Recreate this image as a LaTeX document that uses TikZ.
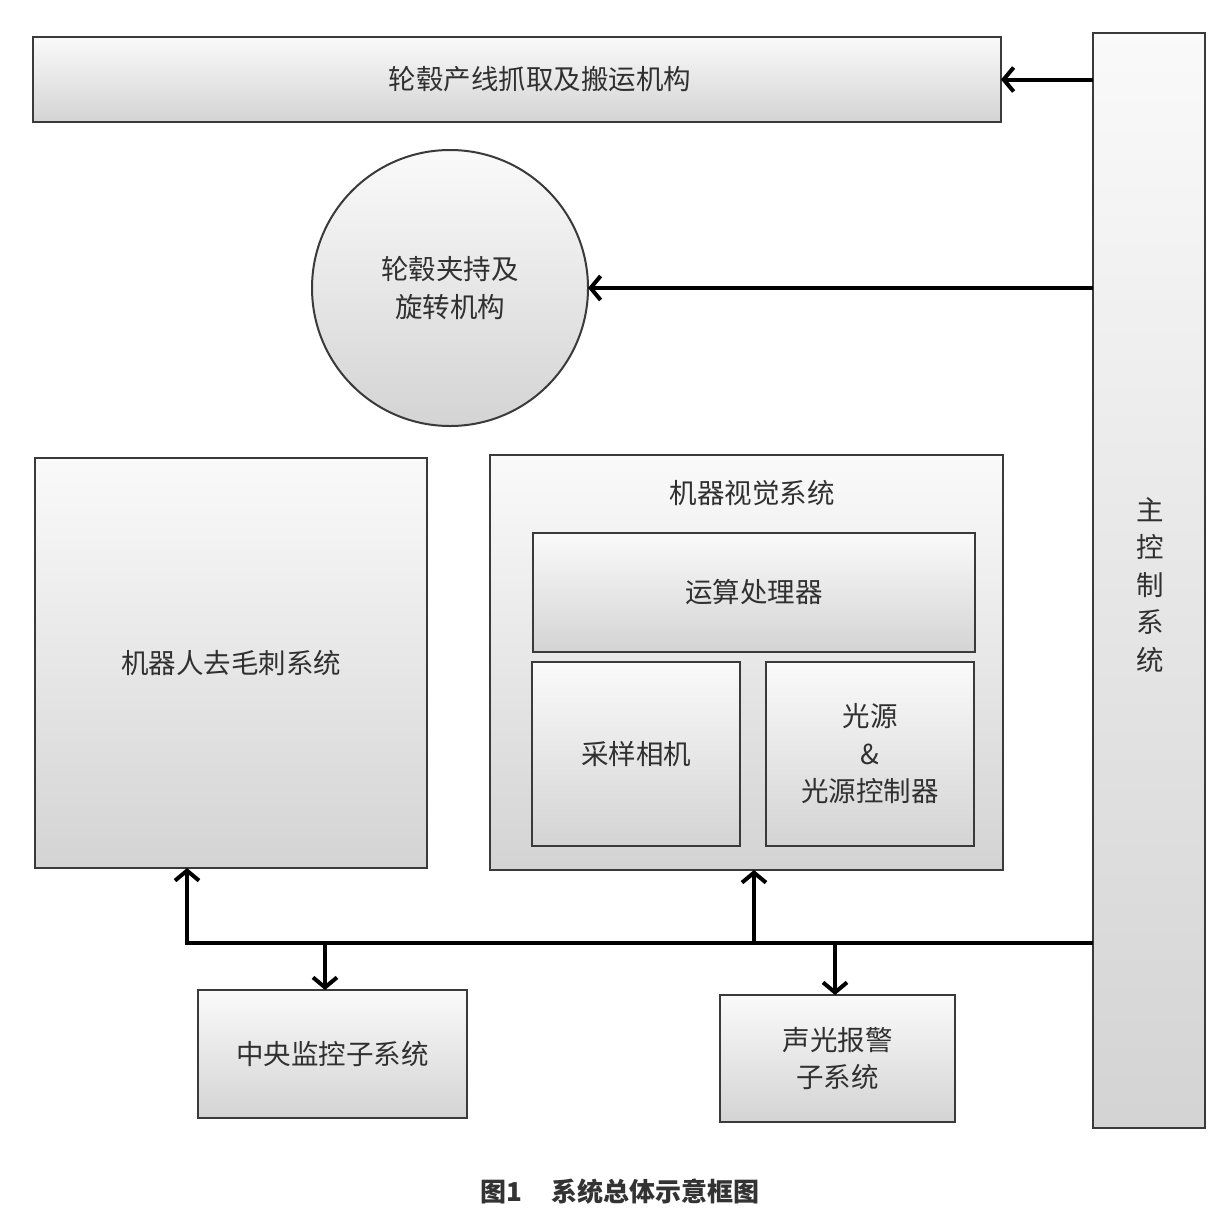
\documentclass[tikz,border=0pt]{standalone}
\usepackage{fontspec}
\setmainfont{Noto Sans CJK SC}
\newfontfamily\cjk{Noto Sans CJK SC}
\usetikzlibrary{arrows.meta,shapes.geometric}
\definecolor{edgegray}{HTML}{3A3A3A}
\definecolor{txtgray}{HTML}{303030}
\tikzset{
  box/.style={rectangle, draw=edgegray, line width=2pt, inner sep=0pt, outer sep=0pt,
    top color=gray!4, bottom color=gray!34, text=txtgray, align=center,
    font=\cjk\fontsize{27.5}{37.5}\selectfont},
  lbl/.style={text=txtgray, align=center, inner sep=0pt, font=\cjk\fontsize{27.5}{37.5}\selectfont},
  bus/.style={line width=4pt, black},
  arr/.style={line width=4pt, black, -{Straight Barb[length=10pt,width=24pt]}},
}
\begin{document}
\begin{tikzpicture}[x=1pt,y=-1pt]
\useasboundingbox (0,0) rectangle (1230,1224);
% main control
\node[box, minimum width=112pt, minimum height=1095pt] (mc) at (1149,580.5) {};
\node[lbl] (mctxt) at (1150,585) {主\\控\\制\\系\\统};
% top bar
\node[box, minimum width=968pt, minimum height=85pt] (tb) at (517,79.5) {\hspace*{46pt}轮毂产线抓取及搬运机构};
% circle
\node[circle, draw=edgegray, line width=2pt, minimum size=276pt, inner sep=0pt, outer sep=0pt,
  top color=gray!4, bottom color=gray!34, text=txtgray, align=center,
  font=\cjk\fontsize{27.5}{37.5}\selectfont] (circ) at (450,288) {轮毂夹持及\\旋转机构};
% robot deburring
\node[box, minimum width=392pt, minimum height=410pt] (robot) at (231,663) {机器人去毛刺系统};
% machine vision
\node[box, minimum width=513pt, minimum height=415pt] (vision) at (746.5,662.5) {};
\node[lbl] (vtitle) at (752,493) {机器视觉系统};
\node[box, minimum width=442pt, minimum height=119pt] (cpu) at (754,592.5) {运算处理器};
\node[box, minimum width=208pt, minimum height=184pt] (cam) at (636,754) {采样相机};
\node[box, minimum width=208pt, minimum height=184pt] (light) at (870,754) {光源\\\&\\光源控制器};
% bottom boxes
\node[box, minimum width=269pt, minimum height=128pt] (cm) at (332.5,1054) {中央监控子系统};
\node[box, minimum width=235pt, minimum height=127pt] (alarm) at (837.5,1058.5) {声光报警\\子系统};
% arrows from main control
\draw[arr] (tb.east -| mc.west) -- (tb.east);
\draw[arr] (circ.east -| mc.west) -- (circ.east);
% bus
\coordinate (busL) at (187,943);
\coordinate (busR) at (mc.west |- busL);
\coordinate (jv) at (754,943);
\coordinate (jc) at (325,943);
\coordinate (ja) at (835,943);
\draw[bus, line join=miter] (busL |- 0,941) -- (busL) -- (busR);
\draw[arr] (busL) -- (busL |- robot.south);
\draw[arr] (jv) -- (jv |- vision.south);
\draw[arr] (jc) -- (jc |- cm.north);
\draw[arr] (ja) -- (ja |- alarm.north);
% caption
\node[text=black!80, inner sep=0pt, font=\cjk\bfseries\fontsize{26}{30}\selectfont] (cap) at (620,1192) {图1\hspace{1.1em}系统总体示意框图};
\end{tikzpicture}
\end{document}
